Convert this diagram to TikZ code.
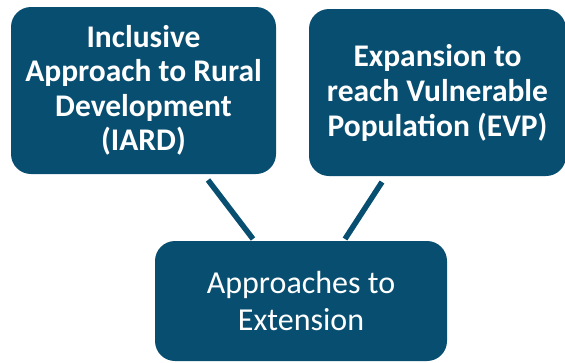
\documentclass[tikz,border=0pt]{standalone}
\usepackage{fontspec}
\setmainfont{Carlito}
\definecolor{boxblue}{RGB}{8,78,112}
\begin{document}
\begin{tikzpicture}[x=1pt,y=-1pt,
  box/.style={fill=boxblue, rounded corners=20pt, text=white, align=center, inner sep=0pt},
  conn/.style={draw=boxblue, line width=5.5pt}]
\useasboundingbox (0,0) rectangle (565,362);
\node[box, minimum width=265pt, minimum height=167pt, font=\bfseries\fontsize{31.5}{34.5}\selectfont] (iard) at (143.5,90.5)
  {Inclusive\\Approach to Rural\\Development\\(IARD)};
\node[box, minimum width=257pt, minimum height=167pt, font=\bfseries\fontsize{31.5}{35}\selectfont] (evp) at (437.5,92.5)
  {Expansion to\\reach Vulnerable\\Population (EVP)};
\node[box, minimum width=292pt, minimum height=120pt, font=\fontsize{32}{37}\selectfont] (ext) at (301,301)
  {Approaches to\\Extension};
\coordinate (a1) at (208,180);
\coordinate (a2) at (253,239);
\coordinate (b1) at (382,182);
\coordinate (b2) at (345,239);
\draw[conn] (a1) -- (a2);
\draw[conn] (b1) -- (b2);
\end{tikzpicture}
\end{document}
